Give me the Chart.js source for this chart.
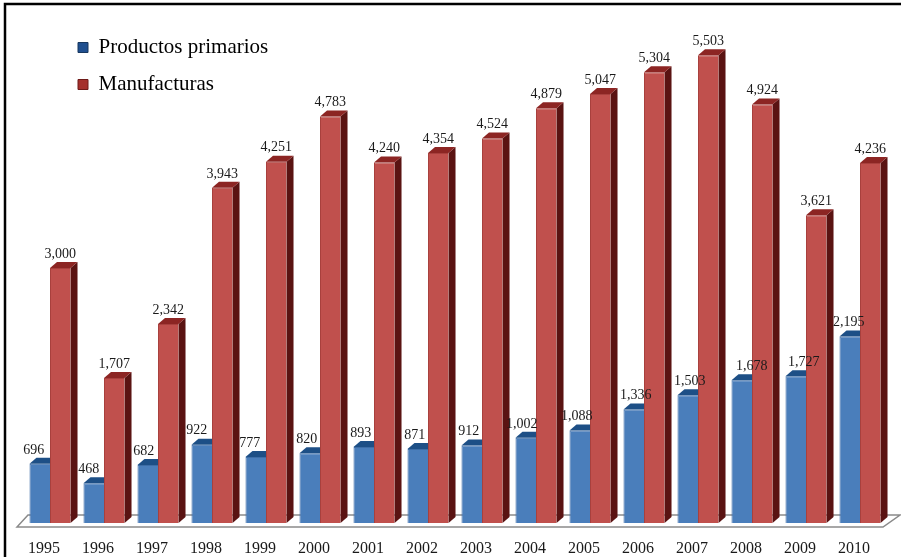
<!DOCTYPE html>
<html><head><meta charset="utf-8">
<style>html,body{margin:0;padding:0;background:#fff}canvas{display:block}</style>
<script src="https://cdn.jsdelivr.net/npm/chart.js@4"></script>
</head><body>
<div style="width:901px;height:557px;position:relative"><canvas id="c"></canvas></div>
<script>
const years = ['1995','1996','1997','1998','1999','2000','2001','2002','2003','2004','2005','2006','2007','2008','2009','2010'];
const primarios = [696,468,682,922,777,820,893,871,912,1002,1088,1336,1503,1678,1727,2195];
const manufacturas = [3000,1707,2342,3943,4251,4783,4240,4354,4524,4879,5047,5304,5503,4924,3621,4236];
const primariosLabelNudge = [-6,-5,-4,-5,-6,-3,-3,-3,-3,-4,-3,2,2,10,8,-1];
const DEPTH_X = 7, DEPTH_Y = 6;
const SERIF = '"Liberation Serif", serif';

const fmt = v => v.toLocaleString('en-US');

const frame3d = {
  id: 'frame3d',
  beforeDraw(chart) {
    const ctx = chart.ctx;
    if (chart.legend) { chart.legend.left = 62; chart.legend.top = 21; }
    ctx.save();
    ctx.fillStyle = '#fff';
    ctx.fillRect(0, 0, chart.width, chart.height);
    ctx.strokeStyle = '#000'; ctx.lineWidth = 2.5;
    ctx.beginPath(); ctx.moveTo(5, chart.height); ctx.lineTo(5, 4); ctx.lineTo(chart.width, 4); ctx.stroke();
    const b = chart.chartArea.bottom, l = chart.chartArea.left, r = chart.chartArea.right;
    ctx.strokeStyle = '#8a8a8a'; ctx.lineWidth = 1.5;
    ctx.beginPath();
    ctx.moveTo(l + 5, b - 8); ctx.lineTo(r + 13, b - 8); ctx.lineTo(r - 4, b + 4);
    ctx.lineTo(l - 6, b + 4); ctx.closePath(); ctx.stroke();
    ctx.restore();
  },
  beforeDatasetsDraw(chart) {
    const ctx = chart.ctx;
    const pal = [{top:'#1d4f86',side:'#17375e'},{top:'#8c2523',side:'#5a1312'}];
    chart.data.datasets.forEach((d, di) => {
      chart.getDatasetMeta(di).data.forEach(bar => {
        const w = bar.width, x0 = bar.x - w/2, x1 = bar.x + w/2, y = bar.y, b = bar.base;
        ctx.fillStyle = pal[di].side;
        ctx.beginPath(); ctx.moveTo(x1,y); ctx.lineTo(x1+DEPTH_X,y-DEPTH_Y); ctx.lineTo(x1+DEPTH_X,b-DEPTH_Y); ctx.lineTo(x1,b); ctx.closePath(); ctx.fill();
        ctx.fillStyle = pal[di].top;
        ctx.beginPath(); ctx.moveTo(x0,y); ctx.lineTo(x0+DEPTH_X,y-DEPTH_Y); ctx.lineTo(x1+DEPTH_X,y-DEPTH_Y); ctx.lineTo(x1,y); ctx.closePath(); ctx.fill();
      });
    });
  },
  afterDatasetsDraw(chart) {
    const ctx = chart.ctx;
    ctx.save();
    ctx.font = '14px ' + SERIF; ctx.fillStyle = '#1a1a1a';
    ctx.textAlign = 'center'; ctx.textBaseline = 'middle';
    chart.data.datasets.forEach((d, di) => {
      chart.getDatasetMeta(di).data.forEach((bar, i) => {
        const dx = di === 0 ? primariosLabelNudge[i] : 0;
        ctx.fillText(fmt(d.data[i]), bar.x + dx, bar.y - 14);
      });
    });
    ctx.restore();
  }
};

new Chart(document.getElementById('c'), {
  type: 'bar',
  data: {
    labels: years,
    datasets: [
      { label: 'Productos primarios', data: primarios, backgroundColor: '#4a7ebb', borderColor:'#3d6da6', borderWidth:{left:1,right:0,top:1,bottom:0} },
      { label: 'Manufacturas', data: manufacturas, backgroundColor: '#c0504d', borderColor:'#a8403d', borderWidth:{left:1,right:0,top:1,bottom:0} }
    ]
  },
  options: {
    responsive: true, maintainAspectRatio: false, animation: false,
    layout: { padding: { left: 23, right: 14, top: 13, bottom: 0 } },
    datasets: { bar: { categoryPercentage: 0.76, barPercentage: 1 } },
    scales: {
      x: {
        afterFit(scale) { scale.height = 34; },
        grid: { display: false, drawTicks: false }, border: { display: false },
        ticks: { font: { family: SERIF, size: 16 }, color: '#1a1a1a', labelOffset: -6, maxRotation: 0, autoSkip: false, padding: 16 }
      },
      y: { display: false, min: 0, max: 6000 }
    },
    plugins: {
      tooltip: { enabled: false },
      legend: {
        position: 'chartArea', align: 'start',
        labels: {
          font: { family: SERIF, size: 21 }, color: '#1a1a1a', boxWidth: 10, boxHeight: 10,
          padding: 16,
          generateLabels() {
            return [
              { text: 'Productos primarios', fillStyle: '#1f4f8f', strokeStyle: '#17375e', lineWidth: 1, datasetIndex: 0 },
              { text: 'Manufacturas', fillStyle: '#a5302c', strokeStyle: '#6e1a18', lineWidth: 1, datasetIndex: 1 }
            ];
          }
        }
      }
    }
  },
  plugins: [frame3d]
});
</script>
</body></html>
